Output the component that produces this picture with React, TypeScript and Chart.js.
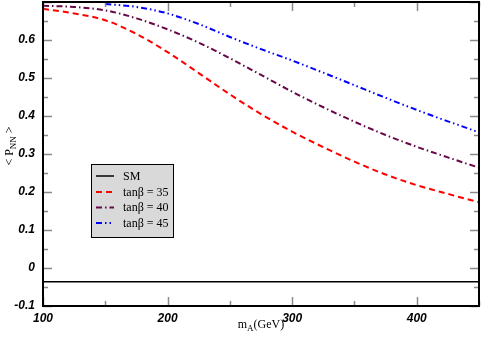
import React, { useEffect, useRef } from 'react';
import { Chart, registerables } from 'chart.js';

Chart.register(...registerables);

// ---- data ----
const massAxis = [100, 125, 150, 175, 200, 225, 250, 275, 300, 325, 350, 375, 400, 425, 450];
const tan35Values = [0.682, 0.670, 0.652, 0.616, 0.568, 0.513, 0.457, 0.405, 0.359, 0.318, 0.280, 0.246, 0.218, 0.195, 0.173];
const tan40Values = [0.690, 0.687, 0.678, 0.657, 0.628, 0.593, 0.552, 0.508, 0.464, 0.423, 0.385, 0.350, 0.319, 0.291, 0.264];
const tan45Mass = [150, 175, 200, 225, 250, 275, 300, 325, 350, 375, 400, 425, 450];
const tan45Values = [0.695, 0.687, 0.670, 0.642, 0.608, 0.576, 0.546, 0.514, 0.481, 0.448, 0.416, 0.386, 0.357];
const smMass = [100, 450];
const smValues = [-0.036, -0.036];

const seriesLabels = ['SM', 'tanβ = 35', 'tanβ = 40', 'tanβ = 45'];

const xTickValues = [100, 200, 300, 400];
const xTickLabels = ['100', '200', '300', '400'];
const xMinorTicks = [150, 250, 350, 450];
const yTickValues = [-0.1, 0, 0.1, 0.2, 0.3, 0.4, 0.5, 0.6, 0.7];
const yTickLabels = ['-0.1', '0', '0.1', '0.2', '0.3', '0.4', '0.5', '0.6', ''];
const yMinorTicks = [-0.05, 0.05, 0.15, 0.25, 0.35, 0.45, 0.55, 0.65];

const toPoints = (xs: number[], ys: number[]) => xs.map((x, i) => ({ x, y: ys[i] }));

const decorPlugin = {
  id: 'decor',
  afterDraw(chart: any) {
    const { ctx, chartArea: a, scales } = chart;
    const xs = scales.x;
    const ys = scales.y;
    ctx.save();
    // inner ticks
    ctx.strokeStyle = '#8a8a8a';
    ctx.lineWidth = 1.5;
    const vTick = (v: number, len: number) => {
      const px = Math.round(xs.getPixelForValue(v)) + 0.5;
      ctx.beginPath();
      ctx.moveTo(px, a.bottom);
      ctx.lineTo(px, a.bottom - len);
      ctx.moveTo(px, a.top);
      ctx.lineTo(px, a.top + len);
      ctx.stroke();
    };
    const hTick = (v: number, len: number) => {
      const py = Math.round(ys.getPixelForValue(v)) + 0.5;
      ctx.beginPath();
      ctx.moveTo(a.left, py);
      ctx.lineTo(a.left + len, py);
      ctx.moveTo(a.right, py);
      ctx.lineTo(a.right - len, py);
      ctx.stroke();
    };
    xTickValues.forEach((v) => vTick(v, 9));
    xMinorTicks.forEach((v) => vTick(v, 5));
    yTickValues.forEach((v) => hTick(v, 9));
    yMinorTicks.forEach((v) => hTick(v, 5));

    // frame
    ctx.strokeStyle = '#000';
    ctx.lineWidth = 2;
    ctx.strokeRect(a.left, a.top, a.right - a.left, a.bottom - a.top);

    // legend
    const lx = 91, ly = 164, lw = 82, lh = 73;
    ctx.fillStyle = '#d9d9d9';
    ctx.fillRect(lx, ly, lw, lh);
    ctx.strokeStyle = '#000';
    ctx.lineWidth = 1;
    ctx.strokeRect(lx + 0.5, ly + 0.5, lw, lh);
    const rows = [176, 192, 207.5, 223];
    chart.data.datasets.forEach((ds: any, i: number) => {
      const yy = rows[i];
      ctx.save();
      ctx.strokeStyle = ds.borderColor;
      ctx.lineWidth = ds.borderWidth;
      ctx.setLineDash(ds.borderDash || []);
      ctx.beginPath();
      ctx.moveTo(96, yy);
      ctx.lineTo(114, yy);
      ctx.stroke();
      ctx.restore();
      ctx.fillStyle = '#000';
      ctx.font = '12px "Liberation Serif"';
      ctx.textBaseline = 'middle';
      ctx.textAlign = 'left';
      ctx.fillText(ds.label, 123, yy + 0.5);
    });

    // x title: m_A(GeV)
    const cx = (a.left + a.right) / 2;
    ctx.fillStyle = '#000';
    ctx.textBaseline = 'alphabetic';
    ctx.textAlign = 'left';
    const big = '12px "Liberation Serif"';
    const small = '9px "Liberation Serif"';
    ctx.font = big;
    const wm = ctx.measureText('m').width;
    const wg = ctx.measureText('(GeV)').width;
    ctx.font = small;
    const wa = ctx.measureText('A').width;
    let sx = cx - (wm + wa + wg) / 2;
    const by = 328;
    ctx.font = big;
    ctx.fillText('m', sx, by);
    sx += wm;
    ctx.font = small;
    ctx.fillText('A', sx, by + 3);
    sx += wa;
    ctx.font = big;
    ctx.fillText('(GeV)', sx, by);

    // y title: < P_NN >
    ctx.save();
    ctx.translate(13, 146);
    ctx.rotate(-Math.PI / 2);
    ctx.font = big;
    const w1 = ctx.measureText('< P').width;
    const w3 = ctx.measureText(' >').width;
    ctx.font = small;
    const w2 = ctx.measureText('NN').width;
    let tx = -(w1 + w2 + w3) / 2;
    ctx.font = big;
    ctx.fillText('< P', tx, 0);
    tx += w1;
    ctx.font = small;
    ctx.fillText('NN', tx, 3);
    tx += w2;
    ctx.font = big;
    ctx.fillText(' >', tx, 0);
    ctx.restore();

    ctx.restore();
  },
};

export default function App() {
  const ref = useRef<HTMLCanvasElement | null>(null);
  useEffect(() => {
    document.body.style.margin = '0';
    document.body.style.background = '#fff';
    const canvas = ref.current;
    if (!canvas) return;
    const tickFont = { family: '"Liberation Sans"', size: 12, weight: 'bold' as const, style: 'italic' as const };
    const chart = new Chart(canvas, {
      type: 'line',
      data: {
        datasets: [
          {
            label: seriesLabels[0],
            data: toPoints(smMass, smValues),
            borderColor: '#000000',
            borderWidth: 1.5,
            pointRadius: 0,
            fill: false,
          },
          {
            label: seriesLabels[1],
            data: toPoints(massAxis, tan35Values),
            borderColor: '#ff0000',
            borderWidth: 2,
            borderDash: [6, 4],
            pointRadius: 0,
            cubicInterpolationMode: 'monotone',
            fill: false,
          },
          {
            label: seriesLabels[2],
            data: toPoints(massAxis, tan40Values),
            borderColor: '#670748',
            borderWidth: 2,
            borderDash: [6, 3, 1.5, 3],
            pointRadius: 0,
            cubicInterpolationMode: 'monotone',
            fill: false,
          },
          {
            label: seriesLabels[3],
            data: toPoints(tan45Mass, tan45Values),
            borderColor: '#0000ff',
            borderWidth: 2,
            borderDash: [6, 3, 1.5, 3, 1.5, 3],
            pointRadius: 0,
            cubicInterpolationMode: 'monotone',
            fill: false,
          },
        ],
      },
      options: {
        responsive: false,
        animation: false,
        layout: { padding: { left: 0, right: 2, top: 2, bottom: 0 } },
        plugins: { legend: { display: false }, tooltip: { enabled: false } },
        scales: {
          x: {
            type: 'linear',
            min: 100,
            max: 450,
            grid: { display: false, drawTicks: false },
            border: { display: false },
            afterBuildTicks: (s: any) => {
              s.ticks = xTickValues.map((v) => ({ value: v }));
            },
            afterFit: (s: any) => {
              s.height = 33;
              s.paddingLeft = 0;
              s.paddingRight = 0;
              s.paddingTop = 0;
              s.paddingBottom = 0;
            },
            ticks: {
              font: tickFont,
              color: '#000',
              padding: 5,
              maxRotation: 0,
              autoSkip: false,
              callback: (_v: any, i: number) => xTickLabels[i],
            },
          },
          y: {
            type: 'linear',
            min: -0.1,
            max: 0.7,
            grid: { display: false, drawTicks: false },
            border: { display: false },
            afterBuildTicks: (s: any) => {
              s.ticks = yTickValues.map((v) => ({ value: v }));
            },
            afterFit: (s: any) => {
              s.width = 43;
              s.paddingLeft = 0;
              s.paddingRight = 0;
              s.paddingTop = 0;
              s.paddingBottom = 0;
            },
            ticks: {
              font: tickFont,
              color: '#000',
              padding: 8,
              autoSkip: false,
              callback: (_v: any, i: number) => yTickLabels[i],
            },
          },
        },
      },
      plugins: [decorPlugin],
    } as any);
    return () => chart.destroy();
  }, []);
  return (
    <div style={{ width: 481, height: 339 }}>
      <canvas ref={ref} width={481} height={339} />
    </div>
  );
}
